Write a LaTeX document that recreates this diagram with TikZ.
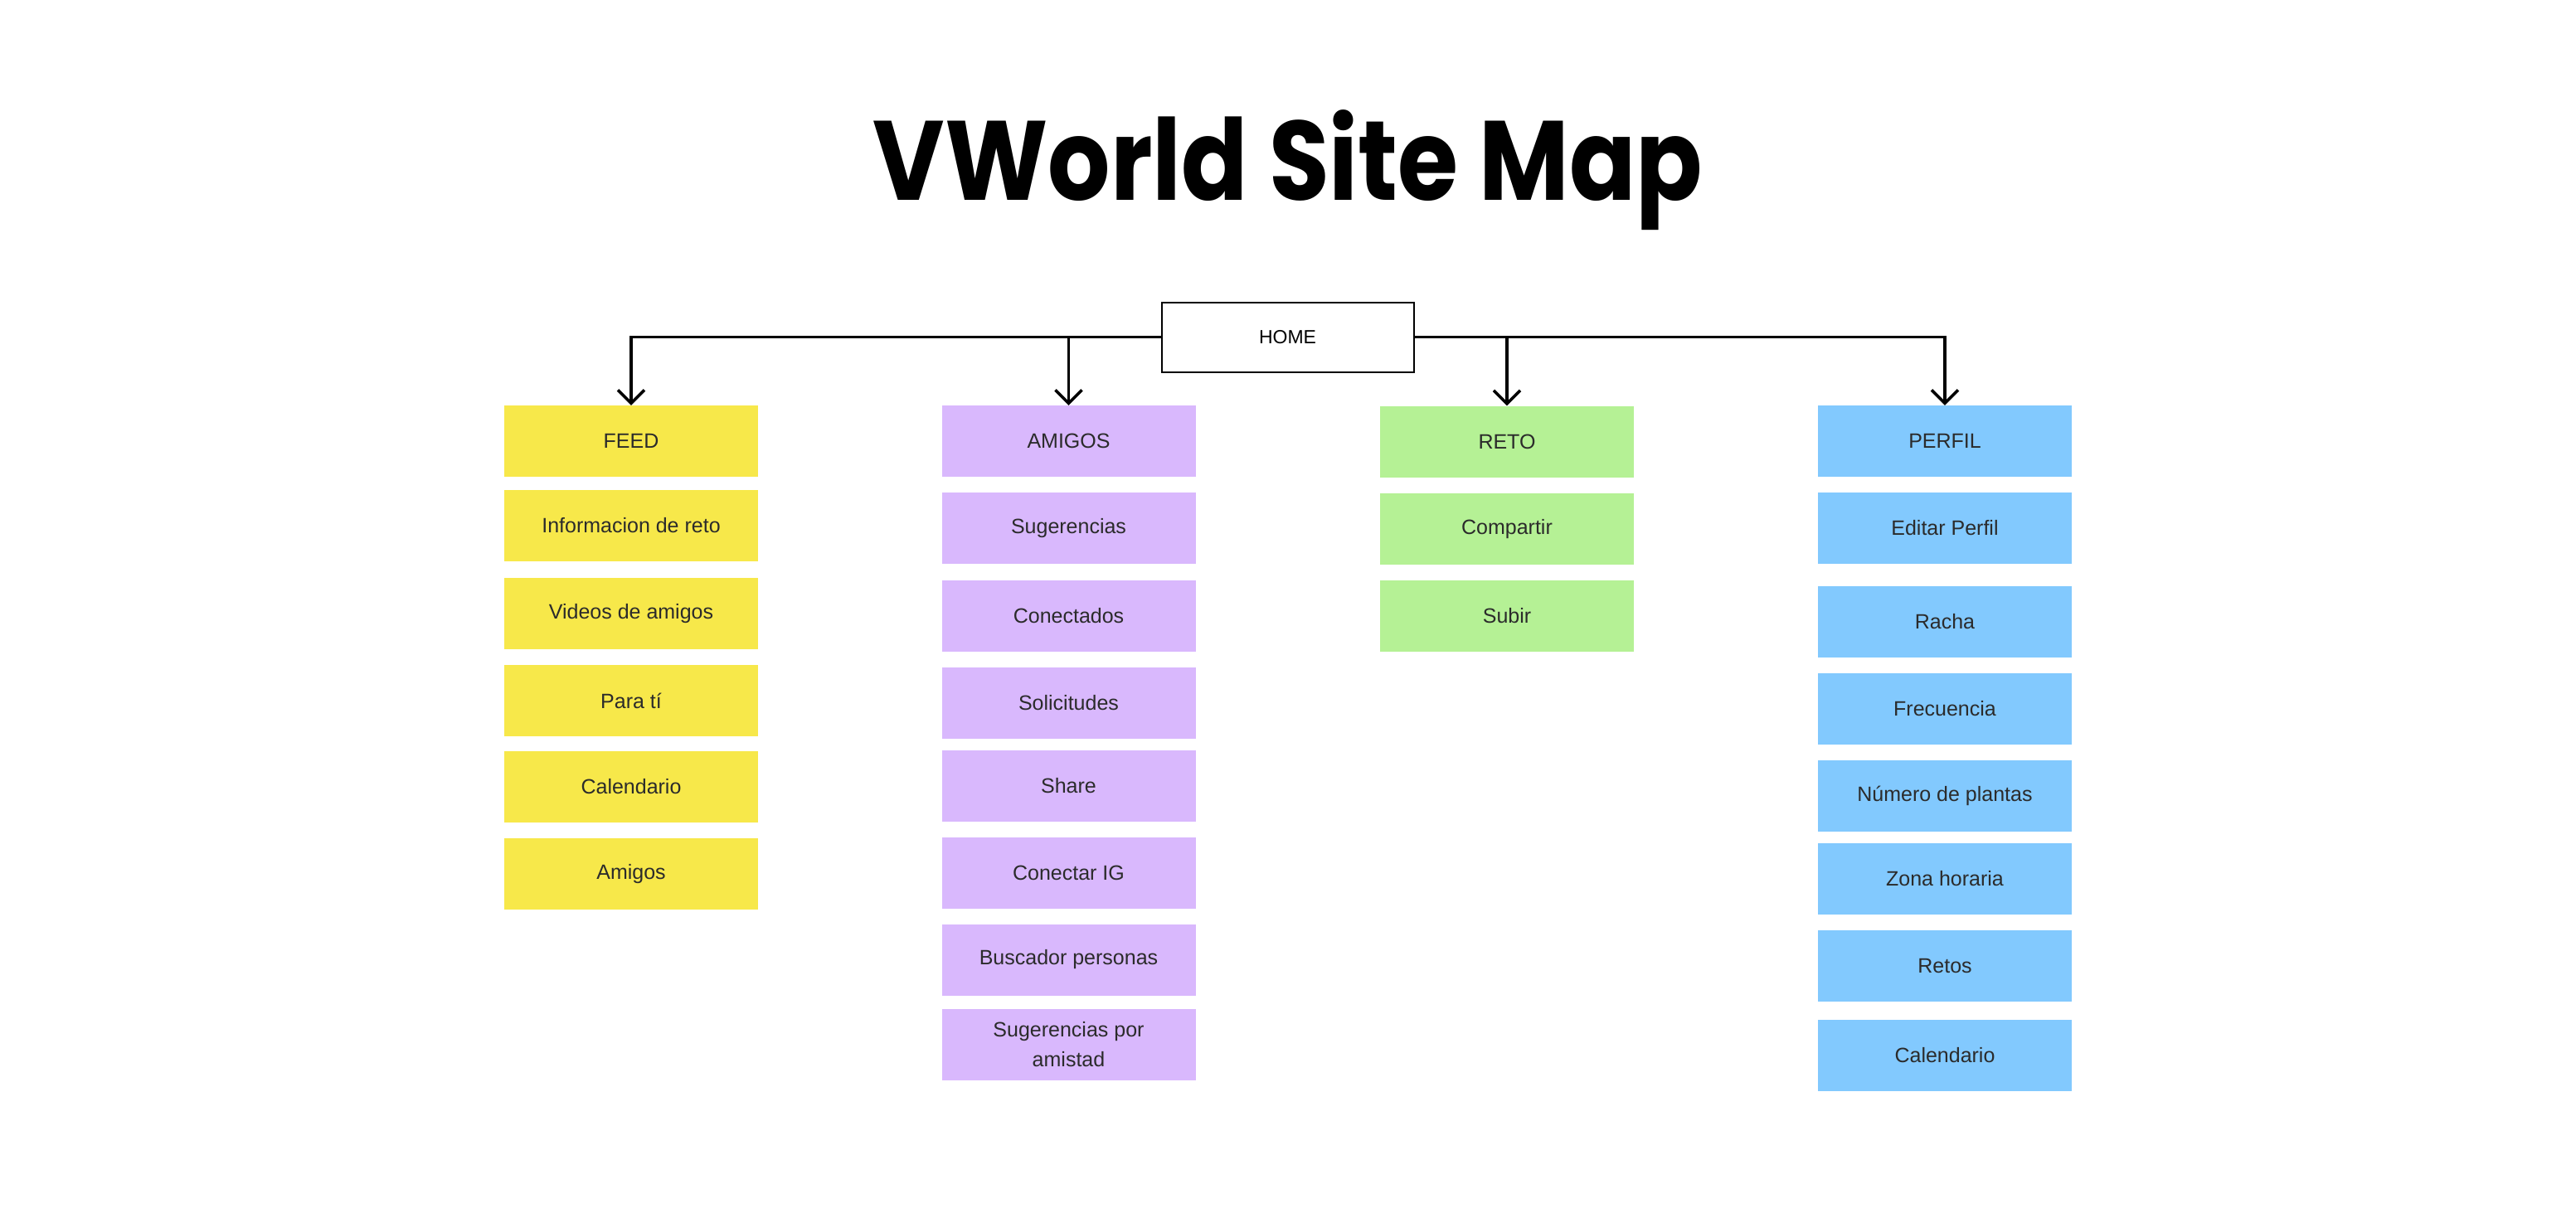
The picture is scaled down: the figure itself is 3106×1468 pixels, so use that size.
\documentclass[tikz,border=0pt]{standalone}
\usepackage{fontspec}
\setmainfont{Liberation Sans}
\newfontfamily\titlefont{Poppins}
\usetikzlibrary{arrows.meta}
\definecolor{cyellow}{HTML}{F7E84A}
\definecolor{cpurple}{HTML}{D9B8FD}
\definecolor{cgreen}{HTML}{B5F195}
\definecolor{cblue}{HTML}{82C9FE}
\definecolor{ctext}{HTML}{2B2B2B}
\begin{document}
\begin{tikzpicture}[x=1pt,y=-1pt,
  card/.style={minimum width=306pt, minimum height=86pt, inner sep=0pt, text=ctext,
    font=\fontsize{25}{36}\selectfont, align=center},
  yel/.style={card, fill=cyellow},
  pur/.style={card, fill=cpurple},
  gre/.style={card, fill=cgreen},
  blu/.style={card, fill=cblue},
  homebox/.style={draw=black, line width=2pt, minimum width=304pt, minimum height=84pt,
    inner sep=0pt, font=\fontsize{23}{28}\selectfont},
  link/.style={line width=3.5pt, -{Straight Barb[length=16pt,width=32pt]}}]
\useasboundingbox[fill=white] (0,0) rectangle (3106,1468);

\node[font=\titlefont\bfseries\fontsize{136}{160}\selectfont, anchor=base, inner sep=0pt] (title) at (1553,241) {\scalebox{0.87}[1]{VWorld Site Map}};

\node[homebox] (home) at (1552.5,406.5) {HOME};

% FEED column
\node[yel] (feed) at (761,532) {FEED};
\node[yel] (f1) at (761,634) {Informacion de reto};
\node[yel] (f2) at (761,740) {Videos de amigos};
\node[yel] (f3) at (761,845) {Para tí};
\node[yel] (f4) at (761,949) {Calendario};
\node[yel] (f5) at (761,1054) {Amigos};

% AMIGOS column
\node[pur] (amigos) at (1288.5,532) {AMIGOS};
\node[pur] (a1) at (1288.5,637) {Sugerencias};
\node[pur] (a2) at (1288.5,742.5) {Conectados};
\node[pur] (a3) at (1288.5,848) {Solicitudes};
\node[pur] (a4) at (1288.5,948) {Share};
\node[pur] (a5) at (1288.5,1053) {Conectar IG};
\node[pur] (a6) at (1288.5,1157.5) {Buscador personas};
\node[pur] (a7) at (1288.5,1259.5) {Sugerencias por\\amistad};

% RETO column
\node[gre] (reto) at (1817,532.5) {RETO};
\node[gre] (r1) at (1817,638) {Compartir};
\node[gre] (r2) at (1817,743) {Subir};

% PERFIL column
\node[blu] (perfil) at (2345,532) {PERFIL};
\node[blu] (p1) at (2345,637) {Editar Perfil};
\node[blu] (p2) at (2345,749.5) {Racha};
\node[blu] (p3) at (2345,854.5) {Frecuencia};
\node[blu] (p4) at (2345,960) {Número de plantas};
\node[blu] (p5) at (2345,1060) {Zona horaria};
\node[blu] (p6) at (2345,1165) {Retos};
\node[blu] (p7) at (2345,1273) {Calendario};

% connectors
\draw[link] (home.west) -| (feed.north);
\draw[link] (home.west) -| (amigos.north);
\draw[link] (home.east) -| (reto.north);
\draw[link] (home.east) -| (perfil.north);
\end{tikzpicture}
\end{document}
